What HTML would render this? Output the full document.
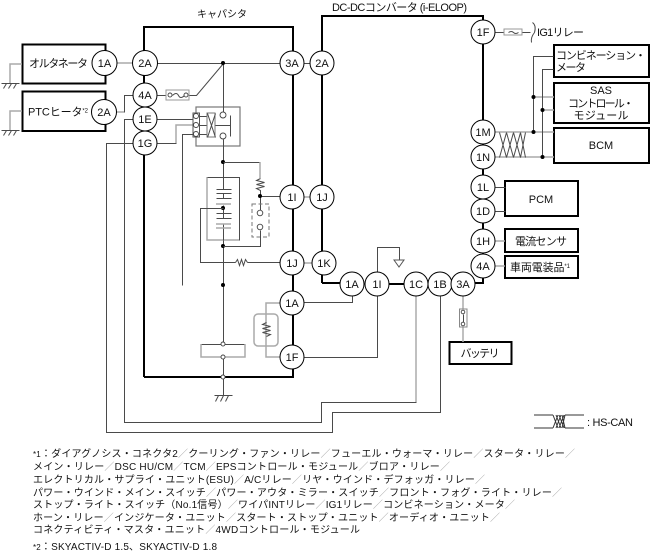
<!DOCTYPE html>
<html><head><meta charset="utf-8">
<style>
html,body{margin:0;padding:0;background:#fff}
svg{display:block}
text{font-family:"Liberation Sans","Noto Sans CJK JP",sans-serif;font-size:11px;fill:#111}
.t{fill:none;stroke:#4a4a4a;stroke-width:1;transform:translate(.5px,.5px)}
.g{fill:none;stroke:#aaa;stroke-width:1.5}
.k{fill:none;stroke:#000;stroke-width:2}
.c{fill:#fff;stroke:#000;stroke-width:1}
.o{fill:#fff;stroke:#444;stroke-width:.9}
.b{fill:#000;stroke:none}
.m{text-anchor:middle}
.f{font-size:10px}
.l{fill:#aaa}
</style></head><body>
<svg xmlns="http://www.w3.org/2000/svg" width="650" height="553" viewBox="0 0 650 553">
<!-- thick outlines -->
<path class="k" d="M144 377V27H293V377H144"/>
<path class="k" d="M322 283V16H483V283H464M322 283H352M377 284H417"/>
<rect class="k" x="22.500" y="44.500" width="83" height="39" fill="#fff"/>
<rect class="k" x="22.500" y="91.500" width="83" height="39.500" fill="#fff"/>
<rect class="k" x="554" y="45" width="95" height="32"/>
<rect class="k" x="554" y="83" width="95" height="40"/>
<rect class="k" x="554" y="128" width="95" height="35"/>
<rect class="k" x="505" y="181" width="73" height="35"/>
<rect class="k" x="505" y="229" width="73" height="23"/>
<rect class="k" x="505" y="256" width="73" height="22"/>
<rect class="k" x="449.500" y="342" width="62" height="22"/>

<!-- grounds -->
<path class="g" d="M22 64H10V83M22 111H10V130"/>
<path class="t" d="M1 83H19M3 88L6 83M8 88L11 83M13 88L16 83M1 130H19M3 135L6 130M8 135L11 130M13 135L16 130"/>

<!-- left wires -->
<path class="g" d="M117 63H133M116 112H124"/>
<path class="t" d="M124 112V95H133"/>
<path class="t" d="M157 63H280M304 63H310M157 95H166M189 95H196L223 63"/>
<path class="t" d="M133 119H124V422H321V402H416"/>
<path class="g" d="M416 296V402"/>
<path class="t" d="M133 143H106V432H332V412H440V296"/>
<path class="t" d="M157 119H193M157 143H176M182 285V134H193"/>
<path class="g" d="M176 143V125H193"/>
<!-- fuse 4A -->
<rect x="166" y="90" width="23" height="10" fill="#fff" stroke="#999"/>
<path class="t" d="M172 95Q176 91 178 95T184 95"/>
<circle class="o" cx="170" cy="95" r="2"/><circle class="o" cx="186" cy="95" r="2"/>

<!-- relay -->
<rect x="196" y="107" width="44" height="39" fill="none" stroke="#777" stroke-width="1.200"/>
<rect x="193" y="113" width="6.500" height="24" fill="#fff" stroke="#555"/>
<circle class="o" cx="196" cy="116" r="2.500"/><circle class="o" cx="196" cy="125" r="2.500"/><circle class="o" cx="196" cy="134" r="2.500"/>
<path class="t" d="M199 116H207M199 134H207M199 125H207"/>
<rect x="207" y="113" width="8" height="24" fill="#fff" stroke="#777"/>
<path class="t" d="M207 113L215 137M215 113L207 137M215 125H230M230 115V136"/>
<path class="t" d="M223 63V112M223 139V344"/>
<circle class="o" cx="223" cy="115" r="3"/><circle class="o" cx="223" cy="136" r="3"/>
<circle class="b" cx="223" cy="63" r="2"/>

<!-- battery stack -->
<path class="g" d="M207 177V240H239"/>
<path class="t" d="M207 177H239V240"/>
<rect x="217" y="186" width="12" height="50" fill="#fff" stroke="none"/>
<path class="t" d="M223 177V189M216 189H231M216 193H231M223 193V198M216 198H231M223 205V218M216 213H231M216 218H231M223 224V240"/>
<path class="g" d="M216 204H231M216 224H231M216 228H231"/>
<circle class="b" cx="223" cy="208" r="2"/>
<path class="t" d="M223 208H200V262H235M247 262H280"/>
<path class="t" d="M235 262L237 259L239 265L241 259L243 265L245 259L247 262"/>
<circle class="b" cx="223" cy="162" r="2"/>
<circle class="b" cx="223" cy="246" r="2"/>
<circle class="b" cx="223" cy="285" r="2"/>
<path class="t" d="M223 162H260"/>
<path class="g" d="M260 162V178"/>
<path class="t" d="M260 178L256 180L264 182L256 184L264 186L256 188L260 190V210M260 196H280"/>
<circle class="b" cx="260" cy="196" r="2"/>
<rect x="252" y="204" width="17" height="33" fill="none" stroke="#777" stroke-dasharray="4 2.500"/>
<circle class="o" cx="260" cy="213" r="2.800"/><circle class="o" cx="260" cy="227" r="2.800"/>
<path class="t" d="M260 230V246H223"/>
<path class="g" d="M304 263H312M304 197H310"/>

<!-- bottom element -->
<path class="t" d="M201 344H245"/>
<path class="g" d="M245 344V357H201V344"/>
<path class="t" d="M223 357V395M214 395H232M215 401L218 395M220 401L223 395M225 401L228 395"/>
<circle class="o" cx="223" cy="344" r="2"/><circle class="o" cx="223" cy="357" r="2"/><circle class="o" cx="223" cy="377" r="2"/>

<!-- 1A/1F heater -->
<path class="g" d="M280 303H266V357H280"/>
<rect x="254" y="314" width="24" height="32" rx="4" fill="none" stroke="#aaa" stroke-width="1.500"/>
<path class="t" d="M266 322L262 324L270 326L262 328L270 330L262 332L270 334L266 336"/>
<path class="t" d="M304 302H352V296M304 357H377V296M377 272V247H399V260"/>
<path d="M394 260H404L399 267Z" fill="#fff" stroke="#555"/>
<path class="g" d="M463 296V342"/>
<rect x="459.500" y="309" width="7.500" height="18" fill="#fff" stroke="#888"/>
<circle class="o" cx="463" cy="312" r="1.800"/><circle class="o" cx="463" cy="324" r="1.800"/>
<path class="t" d="M463 314L463 322"/>

<!-- right wires -->
<path class="t" d="M495 32H504M522 32H530"/>
<rect x="504" y="29" width="18" height="6" fill="#fff" stroke="#999"/>
<path class="t" d="M508 32Q511 30 513 32T518 32"/>
<path class="t" d="M532 22Q536 25 534 32Q530 37 531 42"/>
<path class="g" d="M495 132H554M495 157H554M533 97H554M542 110H554M495 241H505M495 266H505"/>
<path class="t" d="M553 56H533V132M553 69H542V157M495 187H505M495 211H505"/>
<circle class="b" cx="533.500" cy="97" r="2"/><circle class="b" cx="533.500" cy="132" r="2"/>
<circle class="b" cx="542.500" cy="110" r="2"/><circle class="b" cx="542.500" cy="157" r="2"/>
<path class="t" d="M499 132L506 157M506 132L499 157M506 132L513 157M513 132L506 157M513 132L520 157M520 132L513 157M520 132L525 157M525 132L520 157"/>

<!-- legend -->
<path d="M534 415H553M534 428H553M565 415H584M565 428H584" fill="none" stroke="#333"/>
<path d="M553 415L558 428M556 415L561 428M559 415L564 428M562 415L565 428M558 415L553 428M561 415L556 428M564 415L559 428M565 415L562 428" fill="none" stroke="#333"/>

<!-- circles -->
<g>
<circle class="c" cx="104.500" cy="63" r="12.500"/><circle class="c" cx="145" cy="63" r="12.500"/>
<circle class="c" cx="104" cy="112" r="12.500"/>
<circle class="c" cx="145" cy="95" r="12"/><circle class="c" cx="145" cy="119" r="12"/><circle class="c" cx="145" cy="143" r="12"/>
<circle class="c" cx="292" cy="63" r="12"/><circle class="c" cx="322" cy="63" r="12"/>
<circle class="c" cx="292" cy="197" r="12"/><circle class="c" cx="322" cy="197" r="12"/>
<circle class="c" cx="292" cy="263" r="12"/><circle class="c" cx="324" cy="263" r="12"/>
<circle class="c" cx="292" cy="303" r="12"/><circle class="c" cx="292" cy="357" r="12"/>
<circle class="c" cx="483" cy="32" r="12"/><circle class="c" cx="483" cy="132" r="12"/><circle class="c" cx="483" cy="157" r="12"/>
<circle class="c" cx="483" cy="187" r="12"/><circle class="c" cx="483" cy="211" r="12"/><circle class="c" cx="483" cy="241" r="12"/><circle class="c" cx="483" cy="266" r="12"/>
<circle class="c" cx="352" cy="284" r="12"/><circle class="c" cx="377" cy="284" r="12"/><circle class="c" cx="416" cy="284" r="12"/><circle class="c" cx="440" cy="284" r="12"/><circle class="c" cx="463" cy="284" r="12"/>
</g>
<g>
<text class="m" x="104.500" y="67">1A</text><text class="m" x="145" y="67">2A</text><text class="m" x="104" y="116">2A</text>
<text class="m" x="145" y="99">4A</text><text class="m" x="145" y="123">1E</text><text class="m" x="145" y="147">1G</text>
<text class="m" x="292" y="67">3A</text><text class="m" x="322" y="67">2A</text>
<text class="m" x="292" y="201">1I</text><text class="m" x="322" y="201">1J</text>
<text class="m" x="292" y="267">1J</text><text class="m" x="324" y="267">1K</text>
<text class="m" x="292" y="307">1A</text><text class="m" x="292" y="361">1F</text>
<text class="m" x="483" y="36">1F</text><text class="m" x="483" y="136">1M</text><text class="m" x="483" y="161">1N</text>
<text class="m" x="483" y="191">1L</text><text class="m" x="483" y="215">1D</text><text class="m" x="483" y="245">1H</text><text class="m" x="483" y="270">4A</text>
<text class="m" x="352" y="288">1A</text><text class="m" x="377" y="288">1I</text><text class="m" x="416" y="288">1C</text><text class="m" x="440" y="288">1B</text><text class="m" x="463" y="288">3A</text>
</g>

<!-- labels -->
<text class="f" x="197" y="17.500" textLength="50">キャパシタ</text>
<text x="332" y="11" textLength="135">DC-DCコンバータ (i-ELOOP)</text>
<text x="29" y="67" textLength="59">オルタネータ</text>
<text x="28" y="115.500" textLength="60">PTCヒータ<tspan font-size="6" dy="-3">*2</tspan></text>
<text x="537" y="36" textLength="47">IG1リレー</text>
<text x="556" y="59" textLength="90">コンビネーション・</text>
<text x="556" y="71" textLength="30">メータ</text>
<text class="m" x="601" y="94">SAS</text>
<text class="m" x="601" y="107" textLength="66">コントロール・</text>
<text class="m" x="601" y="119" textLength="55">モジュール</text>
<text class="m" x="601" y="149">BCM</text>
<text class="m" x="541" y="203">PCM</text>
<text class="m" x="541" y="245" textLength="52">電流センサ</text>
<text x="510" y="271" textLength="60" font-size="10">車両電装品<tspan font-size="6" dy="-3">*1</tspan></text>
<text class="m" x="480" y="357" textLength="39">バッテリ</text>
<text x="587" y="426" textLength="46">: HS-CAN</text>

<!-- notes -->
<text class="f" x="33" y="457" textLength="542"><tspan font-size="8">*1</tspan>：ダイアグノシス・コネクタ2<tspan class="l">／</tspan>クーリング・ファン・リレー<tspan class="l">／</tspan>フューエル・ウォーマ・リレー<tspan class="l">／</tspan>スタータ・リレー<tspan class="l">／</tspan></text>
<text class="f" x="33" y="470" textLength="417">メイン・リレー<tspan class="l">／</tspan>DSC HU/CM<tspan class="l">／</tspan>TCM<tspan class="l">／</tspan>EPSコントロール・モジュール<tspan class="l">／</tspan>ブロア・リレー<tspan class="l">／</tspan></text>
<text class="f" x="33" y="483" textLength="452">エレクトリカル・サプライ・ユニット(ESU)<tspan class="l">／</tspan>A/Cリレー<tspan class="l">／</tspan>リヤ・ウインド・デフォッガ・リレー<tspan class="l">／</tspan></text>
<text class="f" x="33" y="496" textLength="529">パワー・ウインド・メイン・スイッチ<tspan class="l">／</tspan>パワー・アウタ・ミラー・スイッチ<tspan class="l">／</tspan>フロント・フォグ・ライト・リレー<tspan class="l">／</tspan></text>
<text class="f" x="33" y="508" textLength="482">ストップ・ライト・スイッチ（No.1信号）<tspan class="l">／</tspan>ワイパINTリレー<tspan class="l">／</tspan>IG1リレー<tspan class="l">／</tspan>コンビネーション・メータ<tspan class="l">／</tspan></text>
<text class="f" x="33" y="521" textLength="467">ホーン・リレー<tspan class="l">／</tspan>インジケータ・ユニット<tspan class="l">／</tspan>スタート・ストップ・ユニット<tspan class="l">／</tspan>オーディオ・ユニット<tspan class="l">／</tspan></text>
<text class="f" x="33" y="533" textLength="327">コネクティビティ・マスタ・ユニット<tspan class="l">／</tspan>4WDコントロール・モジュール</text>
<text class="f" x="33" y="550" textLength="184"><tspan font-size="8">*2</tspan>：SKYACTIV-D 1.5、SKYACTIV-D 1.8</text>
</svg>
</body></html>
